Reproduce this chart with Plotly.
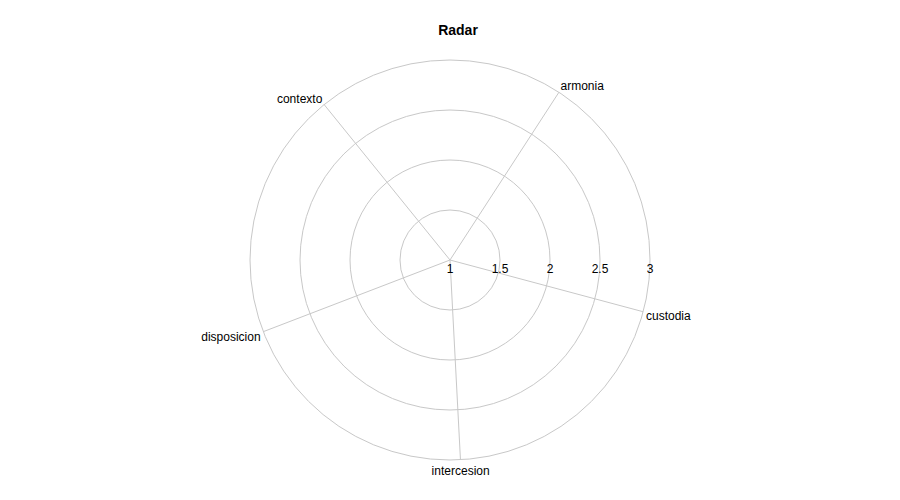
import plotly.graph_objects as go

categories = ["armonia", "contexto", "disposicion", "intercesion", "custodia"]
values = [1, 1, 1, 1, 1]
radial_ticks = [1, 1.5, 2, 2.5, 3]

fig = go.Figure()
fig.add_trace(go.Scatterpolar(r=values + values[:1], theta=categories + categories[:1],
                              mode="lines", line=dict(color="#2ca02c", width=1),
                              showlegend=False, hoverinfo="skip"))
fig.update_layout(
    title=dict(text="<b>Radar</b>", x=0.5, y=0.955, yanchor="middle", xanchor="center",
               font=dict(size=14, color="black")),
    font=dict(family="Liberation Sans, Arial", size=12, color="black"),
    paper_bgcolor="white",
    width=900, height=500,
    margin=dict(l=32, r=48, t=52, b=48),
    polar=dict(
        bgcolor="white",
        domain=dict(x=[0, 1], y=[0, 1]),
        radialaxis=dict(range=[1, 3], tickvals=radial_ticks, ticktext=[str(v) for v in radial_ticks],
                        angle=0, tickangle=0, showline=False, ticks="",
                        gridcolor="#c8c8c8", gridwidth=1, tickfont=dict(size=12)),
        angularaxis=dict(rotation=57, direction="counterclockwise", linecolor="#c8c8c8",
                         gridcolor="#c8c8c8", ticks="", tickfont=dict(size=12)),
    ),
)
fig.write_html("out.html")
